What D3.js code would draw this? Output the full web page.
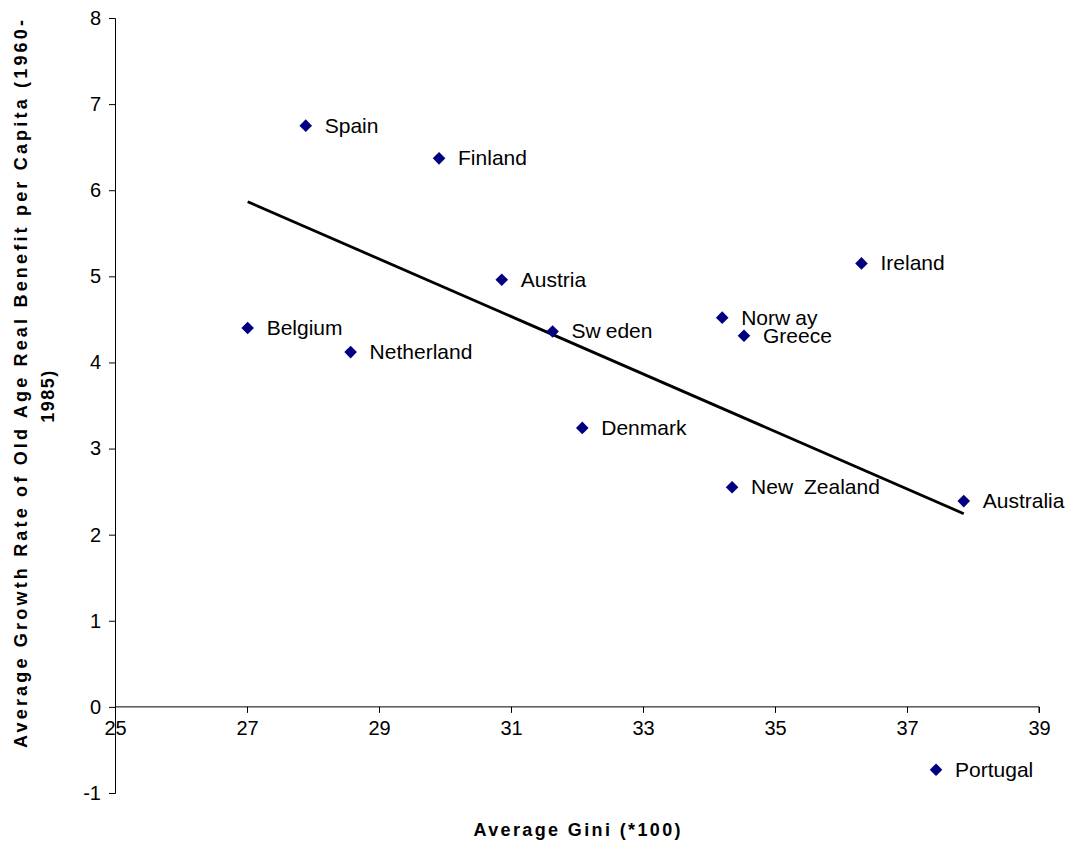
<!DOCTYPE html>
<html>
<head>
<meta charset="utf-8">
<script src="https://cdn.jsdelivr.net/npm/d3@7"></script>
<style>
  html, body { margin: 0; padding: 0; background: #fff; }
  svg { display: block; font-family: "Liberation Sans", Arial, sans-serif; }
</style>
</head>
<body>
<svg id="chart" width="1074" height="848"></svg>
<script>
// ---- data ----
const countries = ["Spain", "Finland", "Austria", "Belgium", "Netherland", "Sweden", "Denmark",
                   "Norway", "Greece", "Ireland", "New Zealand", "Australia", "Portugal"];
const giniValues = [27.89, 29.91, 30.86, 27.01, 28.57, 31.63, 32.08,
                    34.20, 34.53, 36.31, 34.35, 37.86, 37.44];
const growthValues = [6.75, 6.37, 4.96, 4.40, 4.12, 4.36, 3.24,
                      4.52, 4.31, 5.15, 2.55, 2.39, -0.73];
const xTicks = [25, 27, 29, 31, 33, 35, 37, 39];
const yTicks = [-1, 0, 1, 2, 3, 4, 5, 6, 7, 8];
const xTitle = "Average Gini (*100)";
const yTitleLines = ["Average Growth Rate of Old Age Real Benefit per Capita (1960-", "1985)"];

// ---- layout ----
const svg = d3.select("#chart");
const x = d3.scaleLinear().domain([25, 39]).range([115, 1039]);
const y = d3.scaleLinear().domain([-1, 8]).range([793, 18]);
const fmt = d => String(d);

// y axis
const yAxis = d3.axisLeft(y).tickValues(yTicks).tickSize(6).tickPadding(8).tickFormat(fmt);
const gy = svg.append("g").attr("transform", `translate(${x(25)},0)`).call(yAxis);
gy.select(".domain").attr("stroke", "#000").attr("stroke-width", 1);
gy.selectAll(".tick line").attr("stroke", "#000");
gy.selectAll(".tick text").attr("font-size", 20).attr("fill", "#000")
  .attr("font-family", "'Liberation Sans', Arial, sans-serif");

// x axis at y = 0
const xAxis = d3.axisBottom(x).tickValues(xTicks).tickSize(6).tickPadding(8).tickFormat(fmt);
const gx = svg.append("g").attr("transform", `translate(0,${y(0)})`).call(xAxis);
gx.select(".domain").attr("stroke", "#000").attr("stroke-width", 1).attr("d", `M${x(25)},0H${x(39)}V6`);
gx.selectAll(".tick line").attr("stroke", "#000");
gx.selectAll(".tick text").attr("font-size", 20).attr("fill", "#000")
  .attr("font-family", "'Liberation Sans', Arial, sans-serif");

// trend line (least squares fit over the data)
const n = giniValues.length;
const mx = d3.mean(giniValues), my = d3.mean(growthValues);
let sxy = 0, sxx = 0;
for (let i = 0; i < n; i++) {
  sxy += (giniValues[i] - mx) * (growthValues[i] - my);
  sxx += (giniValues[i] - mx) ** 2;
}
const slope = sxy / sxx, intercept = my - slope * mx;
const [xmin, xmax] = d3.extent(giniValues);
svg.append("line")
  .attr("x1", x(xmin)).attr("y1", y(intercept + slope * xmin))
  .attr("x2", x(xmax)).attr("y2", y(intercept + slope * xmax))
  .attr("stroke", "#000").attr("stroke-width", 2.8);

// points
const pts = countries.map((c, i) => ({ name: c, gx: giniValues[i], gy: growthValues[i] }));
const r = 6.3;
svg.append("g").selectAll("path").data(pts).join("path")
  .attr("d", d => `M${x(d.gx)},${y(d.gy) - r}L${x(d.gx) + r},${y(d.gy)}L${x(d.gx)},${y(d.gy) + r}L${x(d.gx) - r},${y(d.gy)}Z`)
  .attr("fill", "#000080");

// labels
const lab = svg.append("g").selectAll("text").data(pts).join("text")
  .attr("x", d => x(d.gx) + 19)
  .attr("y", d => y(d.gy) + 7)
  .attr("font-size", 21)
  .attr("fill", "#000");
lab.each(function(d) {
  const parts = d.name.split(/(?<=w)/);
  const t = d3.select(this);
  parts.forEach((p, k) => {
    t.append("tspan").attr("dx", k === 0 ? 0 : 5).text(p);
  });
});

// axis titles
svg.append("text")
  .attr("x", 577).attr("y", 836)
  .attr("text-anchor", "middle")
  .attr("font-size", 18).attr("font-weight", "bold")
  .attr("textLength", 207).attr("lengthAdjust", "spacing")
  .text(xTitle);

svg.append("text")
  .attr("transform", "translate(27,384) rotate(-90)")
  .attr("text-anchor", "middle")
  .attr("font-size", 18).attr("font-weight", "bold")
  .attr("textLength", 728).attr("lengthAdjust", "spacing")
  .text(yTitleLines[0]);
svg.append("text")
  .attr("transform", "translate(54,396) rotate(-90)")
  .attr("text-anchor", "middle")
  .attr("font-size", 18).attr("font-weight", "bold").attr("letter-spacing", 1.5)
  .text(yTitleLines[1]);
</script>
</body>
</html>
